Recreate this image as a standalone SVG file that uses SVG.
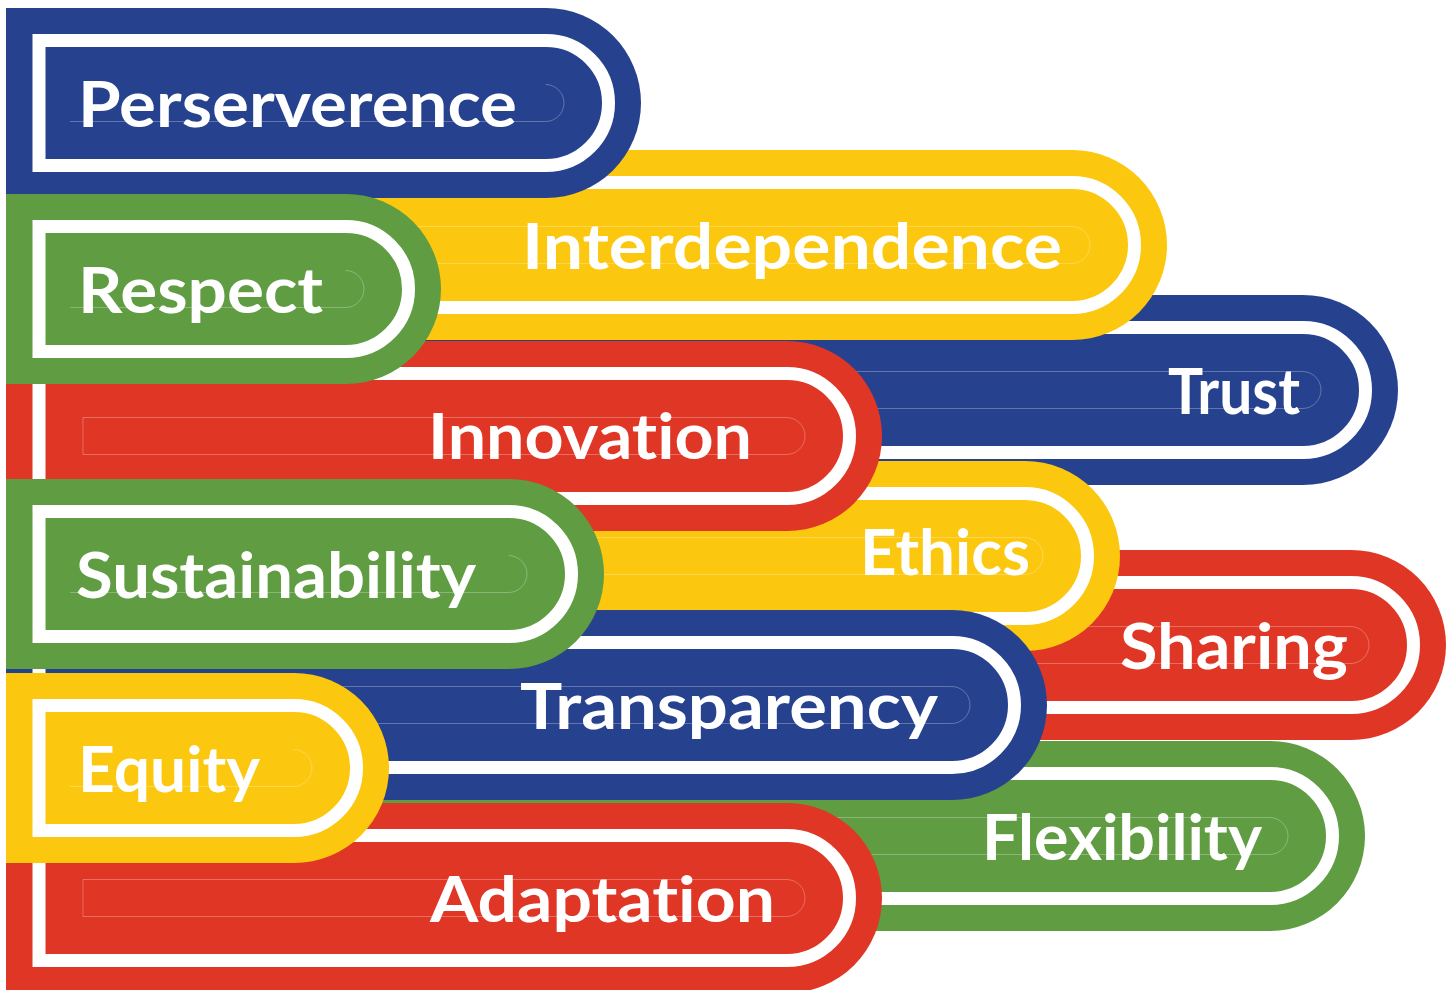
<svg xmlns="http://www.w3.org/2000/svg" width="1454" height="990" viewBox="0 0 1454 990">
<style>
.band{fill:none;stroke:#fff;stroke-width:13}
.guide{fill:none;stroke:#fff;stroke-opacity:0.28;stroke-width:1}
.blue .outer{fill:#26418e}
.yellow .outer{fill:#fcc70f}
.green .outer{fill:#5f9c42}
.red .outer{fill:#e03625}
text{font-family:Lato,"Liberation Sans",sans-serif;font-weight:700;font-size:64px;fill:#fff;font-variant-ligatures:none;font-feature-settings:"liga" 0,"clig" 0}
</style>
<rect width="1454" height="990" fill="#fff"/>
<g id="trust" class="blue">
<path class="outer" d="M6 295 H1303 A95 95 0 0 1 1303 485 H6 Z"/>
<path class="band" d="M39 327.5 H1303 A62.5 62.5 0 0 1 1303 452.5 H39 Z"/>
<path class="guide" d="M83 371.5 H1302.5 A18.5 18.5 0 0 1 1302.5 408.5 H83 Z"/>
<text x="1168" y="414" textLength="132" lengthAdjust="spacingAndGlyphs">Trust</text>
</g>
<g id="sharing" class="red">
<path class="outer" d="M6 550 H1351 A95 95 0 0 1 1351 740 H6 Z"/>
<path class="band" d="M39 582.5 H1351 A62.5 62.5 0 0 1 1351 707.5 H39 Z"/>
<path class="guide" d="M83 626.5 H1350.5 A18.5 18.5 0 0 1 1350.5 663.5 H83 Z"/>
<text x="1120" y="669" textLength="228" lengthAdjust="spacingAndGlyphs">Sharing</text>
</g>
<g id="flexibility" class="green">
<path class="outer" d="M6 741 H1270 A95 95 0 0 1 1270 931 H6 Z"/>
<path class="band" d="M39 773.5 H1270 A62.5 62.5 0 0 1 1270 898.5 H39 Z"/>
<path class="guide" d="M83 817.5 H1269.5 A18.5 18.5 0 0 1 1269.5 854.5 H83 Z"/>
<text x="982" y="860" textLength="280" lengthAdjust="spacingAndGlyphs">Flexibility</text>
</g>
<g id="ethics" class="yellow">
<path class="outer" d="M6 461 H1025 A95 95 0 0 1 1025 651 H6 Z"/>
<path class="band" d="M39 493.5 H1025 A62.5 62.5 0 0 1 1025 618.5 H39 Z"/>
<path class="guide" d="M83 537.5 H1024.5 A18.5 18.5 0 0 1 1024.5 574.5 H83 Z"/>
<text x="860" y="575" textLength="170" lengthAdjust="spacingAndGlyphs">Ethics</text>
</g>
<g id="interdependence" class="yellow">
<path class="outer" d="M6 150 H1072 A95 95 0 0 1 1072 340 H6 Z"/>
<path class="band" d="M39 182.5 H1072 A62.5 62.5 0 0 1 1072 307.5 H39 Z"/>
<path class="guide" d="M83 226.5 H1071.5 A18.5 18.5 0 0 1 1071.5 263.5 H83 Z"/>
<text x="522" y="269" textLength="540" lengthAdjust="spacingAndGlyphs">Interdependence</text>
</g>
<g id="innovation" class="red">
<path class="outer" d="M6 341 H787 A95 95 0 0 1 787 531 H6 Z"/>
<path class="band" d="M39 373.5 H787 A62.5 62.5 0 0 1 787 498.5 H39 Z"/>
<path class="guide" d="M83 417.5 H786.5 A18.5 18.5 0 0 1 786.5 454.5 H83 Z"/>
<text x="428" y="459" textLength="324" lengthAdjust="spacingAndGlyphs">Innovation</text>
</g>
<g id="transparency" class="blue">
<path class="outer" d="M6 610 H952 A95 95 0 0 1 952 800 H6 Z"/>
<path class="band" d="M39 642.5 H952 A62.5 62.5 0 0 1 952 767.5 H39 Z"/>
<path class="guide" d="M83 686.5 H951.5 A18.5 18.5 0 0 1 951.5 723.5 H83 Z"/>
<text x="520" y="729" textLength="418" lengthAdjust="spacingAndGlyphs">Transparency</text>
</g>
<g id="adaptation" class="red">
<path class="outer" d="M6 803 H787 A95 95 0 0 1 787 993 H6 Z"/>
<path class="band" d="M39 835.5 H787 A62.5 62.5 0 0 1 787 960.5 H39 Z"/>
<path class="guide" d="M83 879.5 H786.5 A18.5 18.5 0 0 1 786.5 916.5 H83 Z"/>
<text x="430" y="922" textLength="345" lengthAdjust="spacingAndGlyphs">Adaptation</text>
</g>
<g id="perserverence" class="blue">
<path class="outer" d="M6 8 H546 A95 95 0 0 1 546 198 H6 Z"/>
<path class="band" d="M39 40.5 H546 A62.5 62.5 0 0 1 546 165.5 H39 Z"/>
<path class="guide" d="M545.5 84.5 A18.5 18.5 0 0 1 545.5 121.5 H70"/>
<text x="78" y="127" textLength="439" lengthAdjust="spacingAndGlyphs">Perserverence</text>
</g>
<g id="respect" class="green">
<path class="outer" d="M6 194 H346 A95 95 0 0 1 346 384 H6 Z"/>
<path class="band" d="M39 226.5 H346 A62.5 62.5 0 0 1 346 351.5 H39 Z"/>
<path class="guide" d="M345.5 270.5 A18.5 18.5 0 0 1 345.5 307.5 H70"/>
<text x="78" y="313" textLength="245" lengthAdjust="spacingAndGlyphs">Respect</text>
</g>
<g id="sustainability" class="green">
<path class="outer" d="M6 479 H509 A95 95 0 0 1 509 669 H6 Z"/>
<path class="band" d="M39 511.5 H509 A62.5 62.5 0 0 1 509 636.5 H39 Z"/>
<path class="guide" d="M508.5 555.5 A18.5 18.5 0 0 1 508.5 592.5 H70"/>
<text x="76" y="598" textLength="400" lengthAdjust="spacingAndGlyphs">Sustainability</text>
</g>
<g id="equity" class="yellow">
<path class="outer" d="M6 673 H294 A95 95 0 0 1 294 863 H6 Z"/>
<path class="band" d="M39 705.5 H294 A62.5 62.5 0 0 1 294 830.5 H39 Z"/>
<path class="guide" d="M293.5 749.5 A18.5 18.5 0 0 1 293.5 786.5 H70"/>
<text x="78" y="792" textLength="182" lengthAdjust="spacingAndGlyphs">Equity</text>
</g>
</svg>
